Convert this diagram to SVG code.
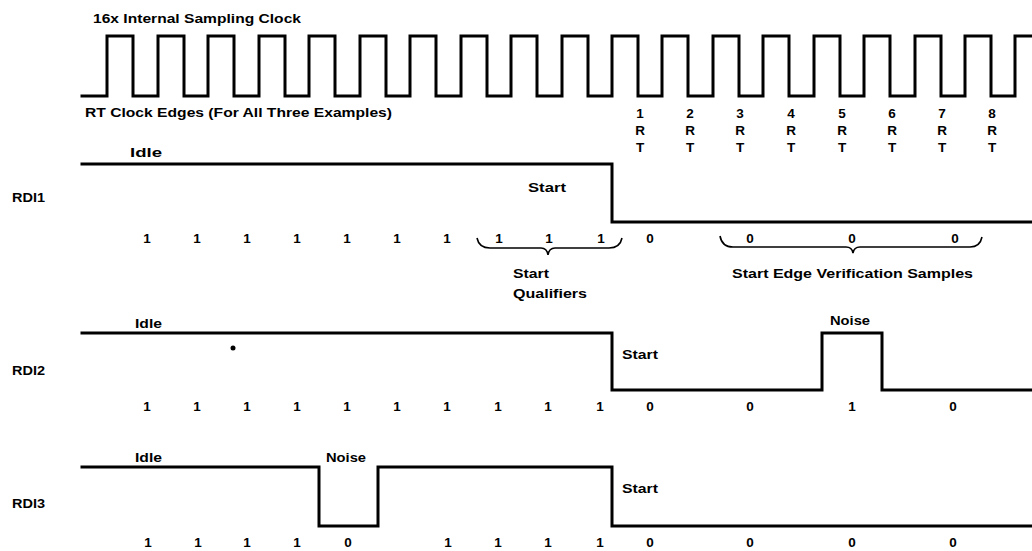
<svg xmlns="http://www.w3.org/2000/svg" width="1032" height="551" viewBox="0 0 1032 551">
<style>
.t{font-family:"Liberation Sans",Arial,sans-serif;font-weight:bold;font-size:13.5px;fill:#000}
.d{font-family:"Liberation Sans",Arial,sans-serif;font-weight:bold;font-size:13.5px;fill:#000;text-anchor:middle}
.w{fill:none;stroke:#000;stroke-width:3;stroke-linejoin:miter;stroke-linecap:square}
.b{fill:none;stroke:#000;stroke-width:1.6}
</style>
<rect width="1032" height="551" fill="#fff"/>
<g id="clock">
<text class="t" x="93" y="23" textLength="208" lengthAdjust="spacingAndGlyphs">16x Internal Sampling Clock</text>
<path class="w" d="M82,96 H107 V36 H133 V96 H158 V36 H184 V96 H208 V36 H234 V96 H259 V36 H285 V96 H309 V36 H335 V96 H360 V36 H386 V96 H410 V36 H436 V96 H461 V36 H487 V96 H511 V36 H537 V96 H562 V36 H588 V96 H612 V36 H638 V96 H662 V36 H688 V96 H713 V36 H739 V96 H763 V36 H789 V96 H814 V36 H840 V96 H864 V36 H890 V96 H915 V36 H941 V96 H965 V36 H991 V96 H1015 V36 H1034"/>
<text class="t" x="85" y="117" textLength="307" lengthAdjust="spacingAndGlyphs">RT Clock Edges (For All Three Examples)</text>
</g>
<g id="rt-labels" class="d">
<text x="640" y="118">1</text><text x="640" y="135">R</text><text x="640" y="152">T</text>
<text x="690" y="118">2</text><text x="690" y="135">R</text><text x="690" y="152">T</text>
<text x="740" y="118">3</text><text x="740" y="135">R</text><text x="740" y="152">T</text>
<text x="791" y="118">4</text><text x="791" y="135">R</text><text x="791" y="152">T</text>
<text x="842" y="118">5</text><text x="842" y="135">R</text><text x="842" y="152">T</text>
<text x="892" y="118">6</text><text x="892" y="135">R</text><text x="892" y="152">T</text>
<text x="942" y="118">7</text><text x="942" y="135">R</text><text x="942" y="152">T</text>
<text x="992" y="118">8</text><text x="992" y="135">R</text><text x="992" y="152">T</text>
</g>
<g id="rdi1">
<text class="t" x="12" y="202" textLength="33" lengthAdjust="spacingAndGlyphs">RDI1</text>
<text class="t" x="130" y="157" textLength="32" lengthAdjust="spacingAndGlyphs">Idle</text>
<path class="w" d="M82,164 H612 V222 H1034"/>
<text class="t" x="528" y="192" textLength="38" lengthAdjust="spacingAndGlyphs">Start</text>
<g class="d">
<text x="147" y="243">1</text><text x="197" y="243">1</text><text x="247" y="243">1</text><text x="297" y="243">1</text><text x="347" y="243">1</text><text x="397" y="243">1</text><text x="447" y="243">1</text><text x="499" y="243">1</text><text x="549" y="243">1</text><text x="601" y="243">1</text><text x="650" y="243">0</text><text x="750" y="243">0</text><text x="852" y="243">0</text><text x="955" y="243">0</text>
</g>
<text class="t" x="513" y="278" textLength="36" lengthAdjust="spacingAndGlyphs">Start</text>
<text class="t" x="513" y="298" textLength="74" lengthAdjust="spacingAndGlyphs">Qualifiers</text>
<text class="t" x="732" y="278" textLength="241" lengthAdjust="spacingAndGlyphs">Start Edge Verification Samples</text>
</g>
<g id="rdi2">
<text class="t" x="12" y="375" textLength="33" lengthAdjust="spacingAndGlyphs">RDI2</text>
<text class="t" x="135" y="328" textLength="27" lengthAdjust="spacingAndGlyphs">Idle</text>
<path class="w" d="M82,333 H612 V390 H822 V333 H882 V390 H1034"/>
<circle cx="233" cy="348" r="2.5" fill="#000"/>
<text class="t" x="830" y="325" textLength="40" lengthAdjust="spacingAndGlyphs">Noise</text>
<text class="t" x="622" y="359" textLength="36" lengthAdjust="spacingAndGlyphs">Start</text>
<g class="d">
<text x="147" y="411">1</text><text x="197" y="411">1</text><text x="247" y="411">1</text><text x="297" y="411">1</text><text x="347" y="411">1</text><text x="397" y="411">1</text><text x="447" y="411">1</text><text x="498" y="411">1</text><text x="548" y="411">1</text><text x="600" y="411">1</text><text x="650" y="411">0</text><text x="750" y="411">0</text><text x="852" y="411">1</text><text x="953" y="411">0</text>
</g>
</g>
<g id="rdi3">
<text class="t" x="12" y="508" textLength="33" lengthAdjust="spacingAndGlyphs">RDI3</text>
<text class="t" x="135" y="462" textLength="27" lengthAdjust="spacingAndGlyphs">Idle</text>
<path class="w" d="M82,467 H319 V526 H378 V467 H612 V526 H1034"/>
<text class="t" x="326" y="462" textLength="40" lengthAdjust="spacingAndGlyphs">Noise</text>
<text class="t" x="622" y="493" textLength="36" lengthAdjust="spacingAndGlyphs">Start</text>
<g class="d">
<text x="148" y="547">1</text><text x="198" y="547">1</text><text x="247" y="547">1</text><text x="297" y="547">1</text><text x="348" y="547">0</text><text x="448" y="547">1</text><text x="498" y="547">1</text><text x="548" y="547">1</text><text x="600" y="547">1</text><text x="650" y="547">0</text><text x="750" y="547">0</text><text x="852" y="547">0</text><text x="953" y="547">0</text>
</g>
</g>
<g id="connectors">
<path class="b" d="M477,238 Q479,248 490,248 H541 Q547,248 548,255 Q549,248 555,248 H609 Q620,248 622,238"/>
<path class="b" d="M720,236 Q722,247 733,247 H846 Q852,247 853,253 Q854,247 860,247 H970 Q980,247 982,237"/>
</g>
</svg>
